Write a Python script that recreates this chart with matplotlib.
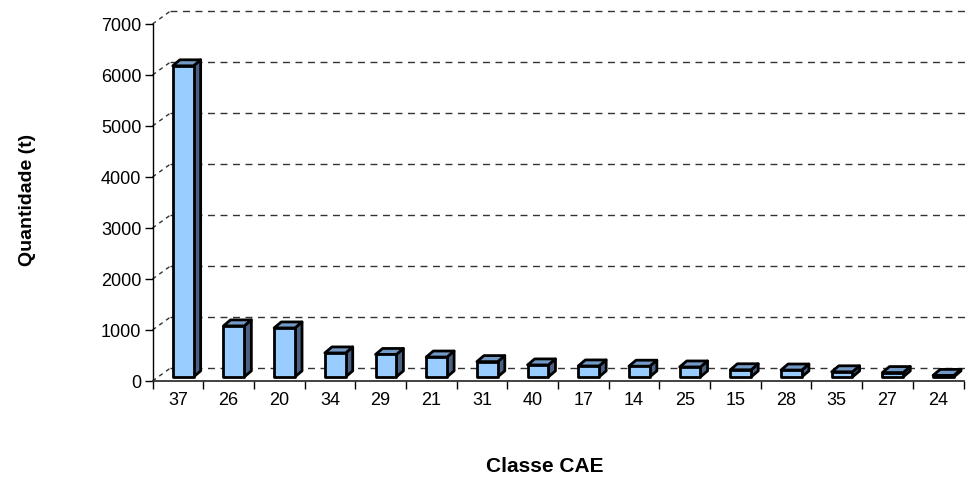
import numpy as np
import matplotlib
matplotlib.use("Agg")
import matplotlib.pyplot as plt
from matplotlib.patches import Polygon

classes = ["37", "26", "20", "34", "29", "21", "31", "40",
           "17", "14", "25", "15", "28", "35", "27", "24"]
quantities = [6100, 1000, 960, 470, 440, 390, 300, 235,
              215, 210, 195, 140, 135, 100, 85, 30]
y_ticks = [0, 1000, 2000, 3000, 4000, 5000, 6000, 7000]

plt.rcParams["font.family"] = ["Liberation Sans", "DejaVu Sans"]

fig = plt.figure(figsize=(9.69, 4.84), dpi=100)
W, H = 969, 484
ax = fig.add_axes([152.5 / W, 103 / H, 811 / W, 370 / H])
ax.set_xlim(-0.5, len(classes) - 0.5)
ax.set_ylim(0, 7255)

# depth of the 3d effect (category units, data units)
grid_dx, grid_dy = 0.355, 255
bar_dx, bar_dy = 0.14, 118
bar_w, bar_off = 0.41, -0.1
floor = 80  # bars stand a little behind the front edge

# back wall grid lines
x_left = -0.5
x_right = len(classes) - 0.5 + 0.05
for v in y_ticks:
    ax.plot([x_left + grid_dx, x_right], [v + grid_dy, v + grid_dy],
            color="#333333", lw=1.0, ls=(0, (5, 4)), zorder=1, clip_on=False)
    ax.plot([x_left, x_left + grid_dx], [v, v + grid_dy],
            color="#333333", lw=1.0, ls=(0, (3, 3)), zorder=1, clip_on=False)

front_c = "#99CCFF"
side_c = "#4A6184"
top_c = "#7399C6"
for i, v in enumerate(quantities):
    x0 = i + bar_off
    x1 = x0 + bar_w
    b = floor
    t = floor + v
    side = Polygon([(x1, b), (x1 + bar_dx, b + bar_dy), (x1 + bar_dx, t + bar_dy), (x1, t)],
                   closed=True, fc=side_c, ec="black", lw=2.0, zorder=3, joinstyle="round")
    top = Polygon([(x0, t), (x1, t), (x1 + bar_dx, t + bar_dy), (x0 + bar_dx, t + bar_dy)],
                  closed=True, fc=top_c, ec="black", lw=2.0, zorder=3, joinstyle="round")
    front = Polygon([(x0, b), (x1, b), (x1, t), (x0, t)],
                    closed=True, fc=front_c, ec="black", lw=2.0, zorder=4, joinstyle="round")
    ax.add_patch(side)
    ax.add_patch(top)
    ax.add_patch(front)

for s in ["top", "right"]:
    ax.spines[s].set_visible(False)
ax.spines["left"].set_bounds(0, 7000)
ax.spines["left"].set_linewidth(1.0)
ax.spines["bottom"].set_linewidth(1.3)
ax.spines["bottom"].set_color("#333333")

ax.set_yticks(y_ticks)
ax.set_yticklabels([str(v) for v in y_ticks])
ax.tick_params(axis="y", direction="out", length=6, width=1.0, pad=2, labelsize=13)

x = np.arange(len(classes))
ax.set_xticks(x)
ax.set_xticklabels(classes)
ax.set_xticks(np.arange(len(classes) + 1) - 0.5, minor=True)
ax.tick_params(axis="x", which="major", length=0, pad=8, labelsize=13)
ax.tick_params(axis="x", which="minor", direction="out", length=6, width=1.0)

fig.text(545 / W, 1 - 467 / H, "Classe CAE", ha="center", va="center",
         fontsize=15, fontweight="bold")
fig.text(27 / W, 1 - 200 / H, "Quantidade (t)", ha="center", va="center",
         rotation=90, fontsize=14, fontweight="bold")

fig.savefig("out.png", dpi=100)
